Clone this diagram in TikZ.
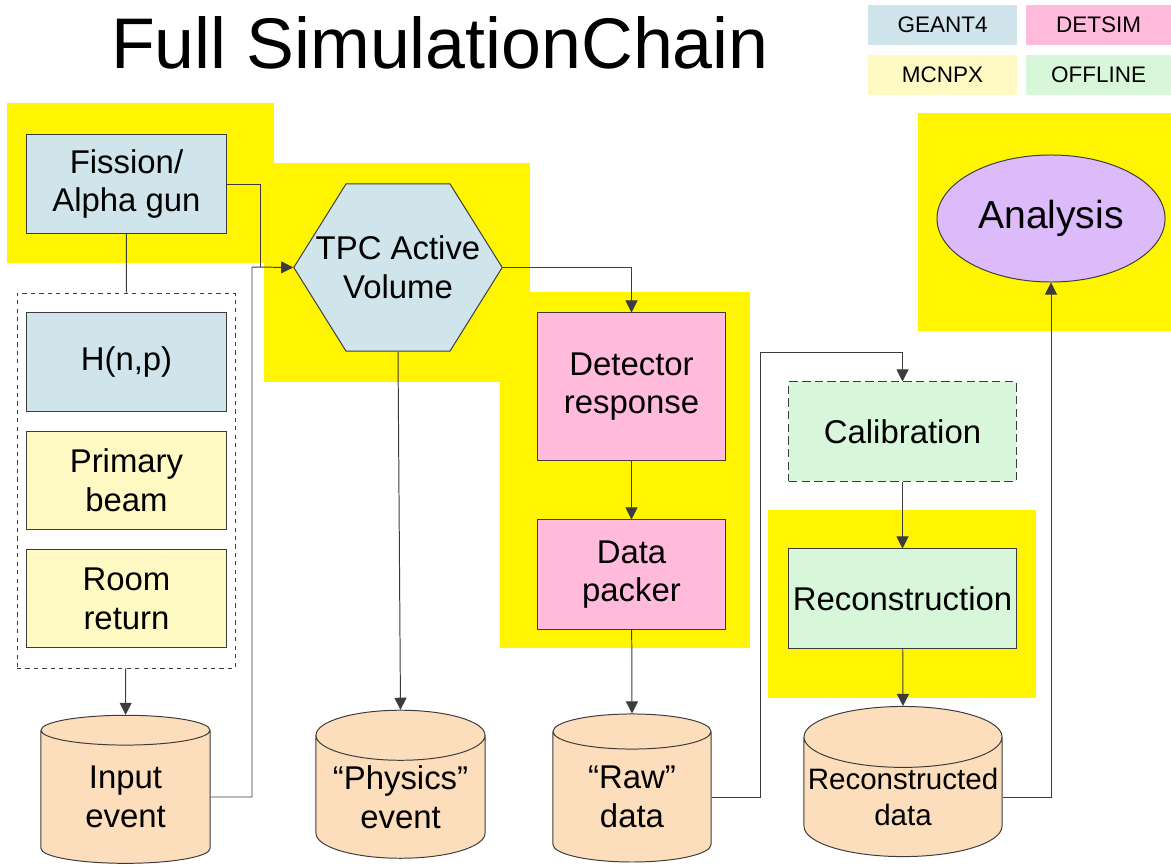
\documentclass[tikz,border=0pt]{standalone}
\usepackage{fontspec}
\setmainfont{Liberation Sans}
\usetikzlibrary{shapes.geometric,shapes.symbols,arrows.meta}
\definecolor{geantblue}{RGB}{207,229,235}
\definecolor{detpink}{RGB}{255,186,220}
\definecolor{mcnpyellow}{RGB}{255,249,196}
\definecolor{offgreen}{RGB}{216,247,218}
\definecolor{cylpeach}{RGB}{252,221,188}
\definecolor{anapurple}{RGB}{221,187,250}
\definecolor{hlyellow}{RGB}{255,245,0}
\definecolor{linegray}{RGB}{60,60,60}

\begin{document}
\begin{tikzpicture}[x=0.025cm,y=-0.025cm,
  box_node/.style={rectangle,draw=linegray,line width=0.7pt,align=center,inner sep=0pt,font=\fontsize{23.4}{27.5}\selectfont},
  cyl_node/.style={cylinder,shape border rotate=90,draw=linegray,line width=0.7pt,fill=cylpeach,align=center,inner sep=0pt,minimum height=3.7cm,font=\fontsize{23.4}{27.5}\selectfont},
  key_node/.style={rectangle,inner sep=0pt,minimum height=1cm,font=\fontsize{16}{19}\selectfont},
  link/.style={draw=linegray,line width=0.7pt},
  arrow_link/.style={link,-{Triangle[length=0.3cm,width=0.3cm]}}]
\useasboundingbox (0,0) rectangle (1171,867);
% yellow highlight areas
\fill[hlyellow] (7,103) rectangle (274,263);
\fill[hlyellow] (264,163) rectangle (530,382);
\fill[hlyellow] (500,292) rectangle (750,648);
\fill[hlyellow] (768,510) rectangle (1036,698);
\fill[hlyellow] (918,113) rectangle (1171,331);
% title and legend
\node[font=\fontsize{51}{60}\selectfont] (title) at (440,43) {Full SimulationChain};
\node[key_node,fill=geantblue,minimum width=3.725cm] (k1) at (942.5,25) {GEANT4};
\node[key_node,fill=detpink,minimum width=3.625cm] (k2) at (1098.5,25) {DETSIM};
\node[key_node,fill=mcnpyellow,minimum width=3.725cm] (k3) at (942.5,75) {MCNPX};
\node[key_node,fill=offgreen,minimum width=3.625cm] (k4) at (1098.5,75) {OFFLINE};
% generators
\node[box_node,fill=geantblue,minimum width=4.975cm,minimum height=2.45cm] (1) at (126.5,184) {Fission/\\Alpha gun};
\node[rectangle,draw=linegray,dashed,line width=0.6pt,minimum width=5.45cm,minimum height=9.375cm] (2) at (126,480.5) {};
\node[box_node,fill=geantblue,minimum width=4.975cm,minimum height=2.45cm] (3) at (126.5,362) {H(n,p)};
\node[box_node,fill=mcnpyellow,minimum width=4.975cm,minimum height=2.45cm] (4) at (126.5,480.5) {Primary\\beam};
\node[box_node,fill=mcnpyellow,minimum width=4.975cm,minimum height=2.45cm] (5) at (126.5,598.5) {Room\\return};
\node[cyl_node,aspect=0.37,minimum width=4.225cm] (6) at (125.5,797) {Input\\event};
% detector chain
\node[signal,signal to=west and east,signal pointer angle=116,draw=linegray,line width=0.7pt,fill=geantblue,align=center,inner xsep=-0.756cm,inner ysep=0pt,minimum width=0pt,minimum height=4.175cm,font=\fontsize{23.4}{27.5}\selectfont] (7) at (398,267.5) {TPC Active\\Volume};
\node[cyl_node,aspect=0.37,minimum width=4.225cm] (8) at (400.5,797) {``Physics''\\event};
\node[box_node,fill=detpink,minimum width=4.675cm,minimum height=3.675cm] (9) at (631.5,386.5) {Detector\\response};
\node[box_node,fill=detpink,minimum width=4.675cm,minimum height=2.725cm] (10) at (631.5,574.5) {Data\\packer};
\node[cyl_node,aspect=0.40,minimum width=3.95cm] (11) at (632,797) {``Raw''\\data};
% offline chain
\node[box_node,dash pattern=on 6pt off 3pt,fill=offgreen,minimum width=5.675cm,minimum height=2.475cm] (12) at (902.5,431.5) {Calibration};
\node[box_node,fill=offgreen,minimum width=5.675cm,minimum height=2.475cm] (13) at (902.5,598.5) {Reconstruction};
\node[cyl_node,aspect=0.32,minimum width=4.95cm,minimum height=3.4cm,font=\fontsize{21}{26}\selectfont] (14) at (903,797) {Reconstructed\\data};
\node[ellipse,draw=linegray,line width=0.7pt,fill=anapurple,inner sep=0pt,minimum width=5.7cm,minimum height=3.175cm,font=\fontsize{27.8}{32}\selectfont] (15) at (1051,218.5) {Analysis};
\coordinate (c1) at (260,267);
\coordinate (c2) at (252,267);
\coordinate (c3) at (760,352);
\draw[link] (1) -- (2);
\draw[arrow_link] (2) -- (6);
\draw[link] (1.east) -| (c1);
\draw[arrow_link] (6.east) -| (c2) -- (7.west);
\draw[arrow_link] (7.east) -| (9.north);
\draw[arrow_link] (7.south) -- (8.north);
\draw[arrow_link] (9) -- (10);
\draw[arrow_link] (10) -- (11.north);
\draw[arrow_link] (11.east) -| (c3) -| (12.north);
\draw[arrow_link] (12) -- (13);
\draw[arrow_link] (13) -- (14.north);
\draw[arrow_link] (14.east) -| (15.south);
\end{tikzpicture}
\end{document}
